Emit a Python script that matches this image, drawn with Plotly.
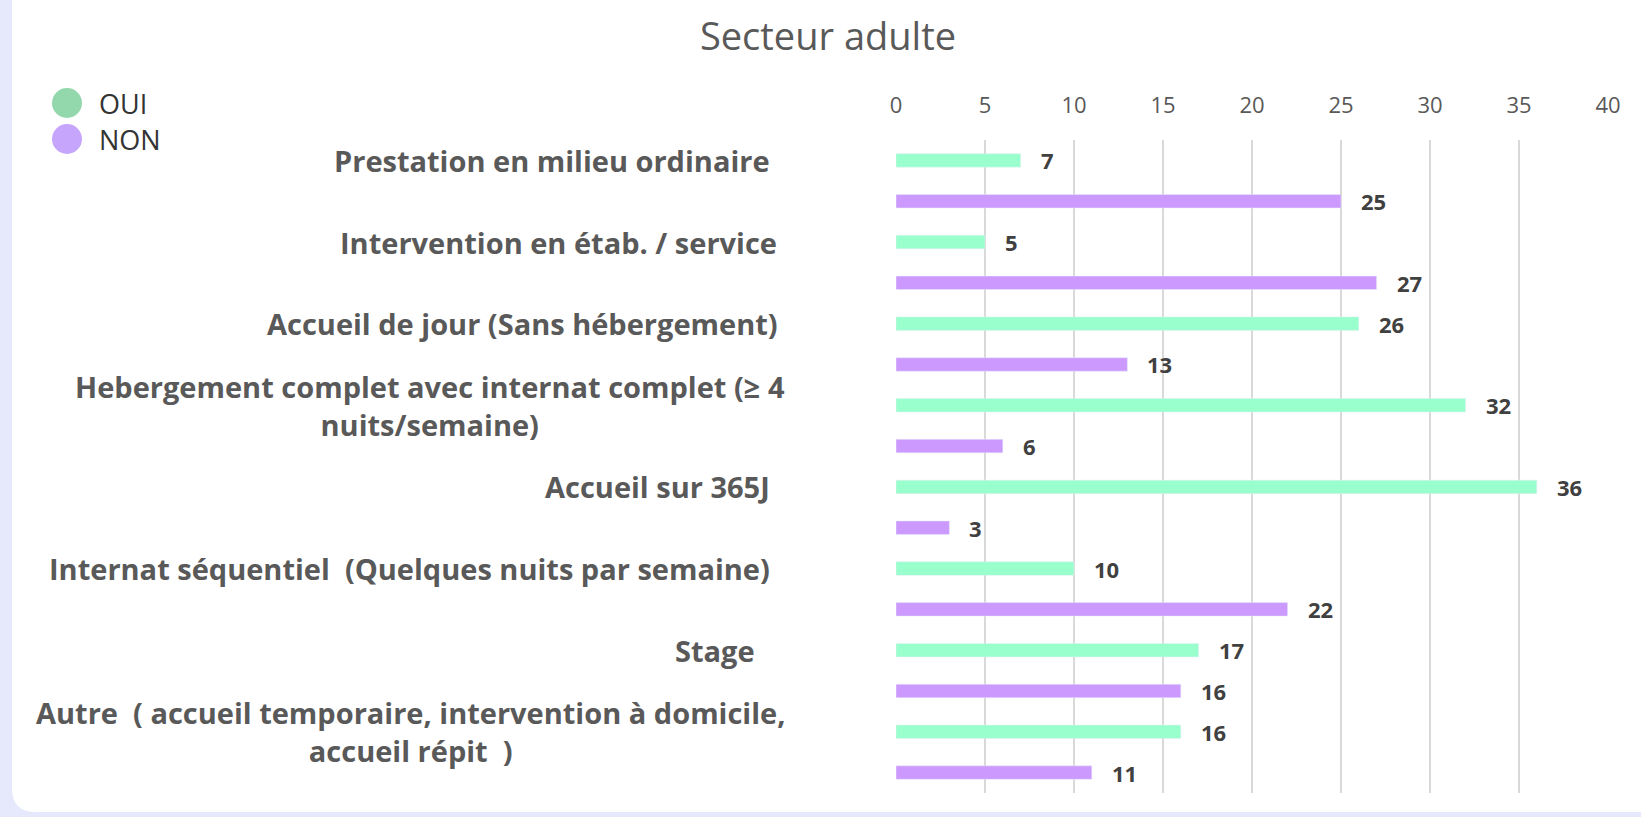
import plotly.graph_objects as go

# ---- data ----
categories = [
    "Prestation en milieu ordinaire  ",
    "Intervention en étab. / service ",
    "Accueil de jour (Sans hébergement) ",
    "Hebergement complet avec internat complet (≥ 4<br>nuits/semaine)",
    "Accueil sur 365J  ",
    "Internat séquentiel  (Quelques nuits par semaine)  ",
    "Stage    ",
    "Autre  ( accueil temporaire, intervention à domicile,<br>accueil répit  )",
]
oui = [7, 5, 26, 32, 36, 10, 17, 16]
non = [25, 27, 13, 6, 3, 22, 16, 11]
series_names = ["OUI", "NON"]
x_ticks = [0, 5, 10, 15, 20, 25, 30, 35, 40]
title_text = "Secteur adulte"

# ---- styling / layout constants ----
W, H = 1641, 817
ML, MR, MT, MB = 896, 33, 140, 24
PW, PH = W - ML - MR, H - MT - MB
C_OUI, C_NON = "#99FFCC", "#CC99FF"
C_OUI_LEG, C_NON_LEG = "#93D8AD", "#C6A6FC"
FONT = "Open Sans"


def px_to_paper(px, py):
    return (px - ML) / PW, (H - MB - py) / PH


# bar slots: OUI then NON for each category
y_oui = [2 * i for i in range(len(categories))]
y_non = [2 * i + 1 for i in range(len(categories))]

fig = go.Figure()
fig.add_trace(go.Bar(x=oui, y=y_oui, orientation="h", name=series_names[0],
                     marker=dict(color=C_OUI), width=0.33, showlegend=False,
                     hovertemplate="%{x}<extra>OUI</extra>"))
fig.add_trace(go.Bar(x=non, y=y_non, orientation="h", name=series_names[1],
                     marker=dict(color=C_NON), width=0.33, showlegend=False,
                     hovertemplate="%{x}<extra>NON</extra>"))

annotations = []
# data labels
for vals, ys in ((oui, y_oui), (non, y_non)):
    for v, y in zip(vals, ys):
        annotations.append(dict(x=v, y=y, xref="x", yref="y", text=f"<b>{v}</b>",
                                showarrow=False, xanchor="left", yanchor="middle",
                                xshift=18, font=dict(family=FONT, size=22, color="#404040")))
# category labels (aligned on OUI bar)
for cat, y in zip(categories, y_oui):
    annotations.append(dict(x=0, y=y, xref="paper", yref="y", text=f"<b>{cat}</b>",
                            showarrow=False, xanchor="right", yanchor="middle",
                            align="center", xshift=-109,
                            font=dict(family=FONT, size=29, color="#595959")))

shapes = []
# white rounded panel
x0, x1, y0, y1, r = 12, 1700, -30, 812, 24
def P(px, py):
    a, b = px_to_paper(px, py)
    return f"{a:.5f},{b:.5f}"
path = (f"M {P(x0 + r, y0)} L {P(x1, y0)} L {P(x1, y1)} L {P(x0 + r, y1)} "
        f"Q {P(x0, y1)} {P(x0, y1 - r)} L {P(x0, y0 + r)} Q {P(x0, y0)} {P(x0 + r, y0)} Z")
shapes.append(dict(type="path", path=path, xref="paper", yref="paper",
                   fillcolor="white", line=dict(width=0), layer="below"))

# legend (manual, circular markers)
leg_items = [(series_names[0], C_OUI_LEG, 103), (series_names[1], C_NON_LEG, 139)]
for name, col, py in leg_items:
    cx, cy = px_to_paper(67, py)
    shapes.append(dict(type="circle", xref="paper", yref="paper",
                       xsizemode="pixel", ysizemode="pixel",
                       xanchor=cx, yanchor=cy, x0=-15, x1=15, y0=-15, y1=15,
                       fillcolor=col, line=dict(width=0)))
    tx, _ = px_to_paper(97, py)
    annotations.append(dict(x=tx, y=cy, xref="paper", yref="paper", text=name,
                            showarrow=False, xanchor="left", yanchor="middle",
                            font=dict(family=FONT, size=27, color="#333333")))

fig.update_layout(
    width=W, height=H,
    margin=dict(l=ML, r=MR, t=MT, b=MB),
    paper_bgcolor="#E6E9FB",
    plot_bgcolor="rgba(0,0,0,0)",
    title=dict(text=title_text, x=828 / W, xanchor="center", y=1 - 37 / H,
               yanchor="middle", yref="container",
               font=dict(family=FONT, size=38, color="#595959")),
    barmode="overlay",
    showlegend=False,
    annotations=annotations,
    shapes=shapes,
    xaxis=dict(range=[0, 40], side="top", tickvals=x_ticks, showgrid=True,
               gridcolor="#D9D9D9", gridwidth=2, zeroline=False, showline=False,
               ticks="", ticklabelstandoff=22,
               tickfont=dict(family=FONT, size=22, color="#595959")),
    yaxis=dict(range=[2 * len(categories) - 0.5, -0.5], showticklabels=False,
               showgrid=False, zeroline=False, showline=False, ticks=""),
)

fig.write_html("out.html", config={"displayModeBar": False},
               post_script="document.body.style.margin='0';document.body.style.overflow='hidden';")
